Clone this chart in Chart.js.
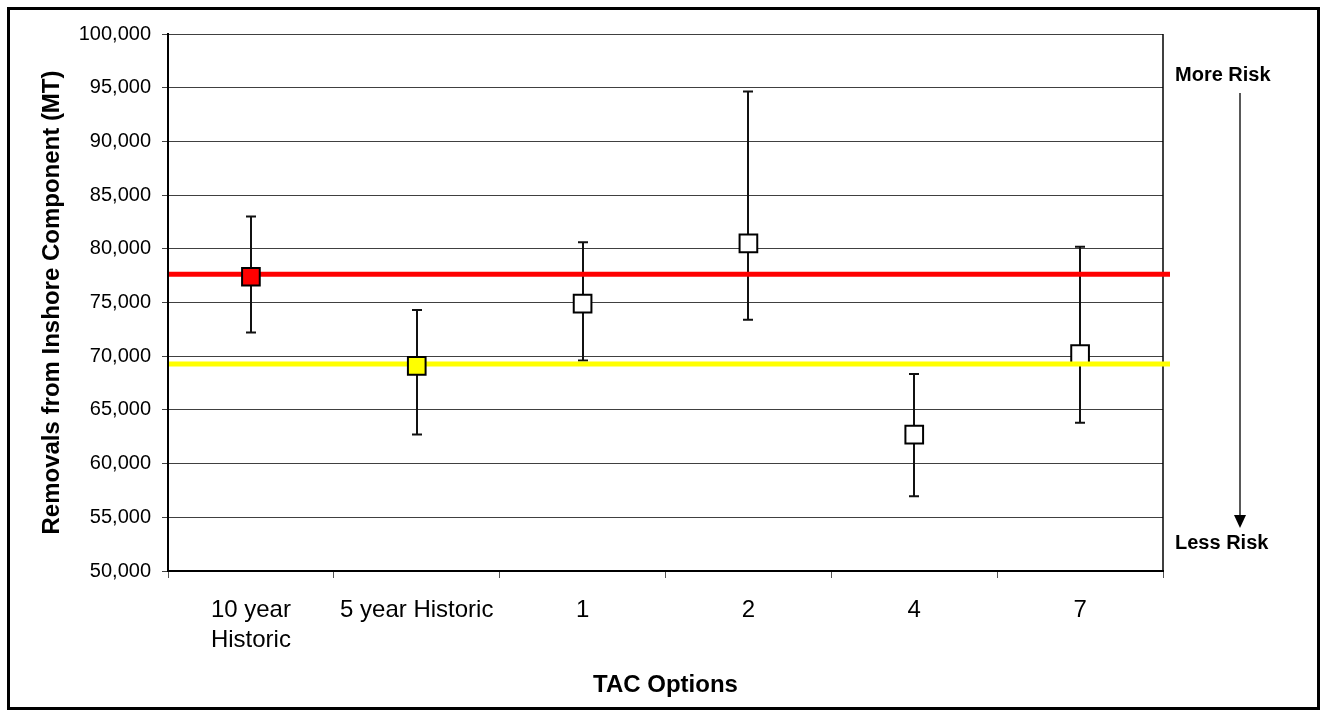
<!DOCTYPE html>
<html lang="en">
<head>
    <meta charset="UTF-8">
    <title>Removals from Inshore Component by TAC Option</title>
    <script src="https://cdn.jsdelivr.net/npm/chart.js"></script>
    <style>
        body {
            margin: 0;
            padding: 0;
            background: #fff;
        }
        #wrap {
            width: 1325px;
            height: 717px;
        }
    </style>
</head>
<body>
    <div id="wrap">
        <canvas id="removalsChart" width="1325" height="717"></canvas>
    </div>

    <script>
        // data
        const categories = [['10 year', 'Historic'], '5 year Historic', '1', '2', '4', '7'];
        const means = [77400, 69100, 74900, 80500, 62700, 70200];
        const upper = [83000, 74300, 80600, 94650, 68350, 80200];
        const lower = [72200, 62700, 69600, 73400, 56950, 63800];
        const markerFill = ['#FF0000', '#FFFF00', '#FFFFFF', '#FFFFFF', '#FFFFFF', '#FFFFFF'];
        const refValues = [77640, 69270];
        const refColors = ['#FF0000', '#FFFF00'];
        const yMin = 50000, yMax = 100000, yStep = 5000;

        const FONT = "'Liberation Sans', Arial, sans-serif";

        // historic options sit above the reference lines, the others below
        const historic = means.map((v, i) => i < 2 ? v : null);
        const others = means.map((v, i) => i >= 2 ? v : null);

        const overlay = {
            id: 'overlay',
            beforeDraw(chart) {
                const ctx = chart.ctx;
                ctx.save();
                ctx.fillStyle = '#fff';
                ctx.fillRect(0, 0, chart.width, chart.height);
                ctx.strokeStyle = '#000';
                ctx.lineWidth = 3;
                ctx.strokeRect(8.5, 8.5, 1310, 700);
                ctx.restore();
            },
            beforeDatasetsDraw(chart) {
                const ctx = chart.ctx;
                const x = chart.scales.x, y = chart.scales.y;
                const area = chart.chartArea;
                ctx.save();
                // right edge of plot box
                ctx.strokeStyle = '#000';
                ctx.lineWidth = 1.5;
                ctx.beginPath();
                ctx.moveTo(area.right, area.top);
                ctx.lineTo(area.right, area.bottom);
                ctx.stroke();
                // error bars
                ctx.lineWidth = 2;
                ctx.strokeStyle = '#111';
                for (let i = 0; i < means.length; i++) {
                    const px = Math.round(x.getPixelForValue(i));
                    const top = y.getPixelForValue(upper[i]);
                    const bot = y.getPixelForValue(lower[i]);
                    ctx.beginPath();
                    ctx.moveTo(px, top);
                    ctx.lineTo(px, bot);
                    ctx.moveTo(px - 5, top);
                    ctx.lineTo(px + 5, top);
                    ctx.moveTo(px - 5, bot);
                    ctx.lineTo(px + 5, bot);
                    ctx.stroke();
                }
                ctx.restore();
            },
            beforeDatasetDraw(chart, args) {
                if (args.index !== 0) return;
                const ctx = chart.ctx;
                const y = chart.scales.y;
                const area = chart.chartArea;
                ctx.save();
                ctx.lineWidth = 5;
                refValues.forEach((v, i) => {
                    const py = y.getPixelForValue(v);
                    ctx.strokeStyle = refColors[i];
                    ctx.beginPath();
                    ctx.moveTo(area.left + 1, py);
                    ctx.lineTo(area.right + 7, py);
                    ctx.stroke();
                });
                ctx.restore();
            },
            afterDraw(chart) {
                const ctx = chart.ctx;
                ctx.save();
                ctx.fillStyle = '#000';
                ctx.font = 'bold 20px ' + FONT;
                ctx.textAlign = 'left';
                ctx.textBaseline = 'middle';
                ctx.fillText('More Risk', 1175, 75);
                ctx.fillText('Less Risk', 1175, 543);
                // arrow
                ctx.strokeStyle = '#222';
                ctx.lineWidth = 1.5;
                ctx.beginPath();
                ctx.moveTo(1240, 93);
                ctx.lineTo(1240, 516);
                ctx.stroke();
                ctx.fillStyle = '#000';
                ctx.beginPath();
                ctx.moveTo(1234, 515);
                ctx.lineTo(1246, 515);
                ctx.lineTo(1240, 528);
                ctx.closePath();
                ctx.fill();
                ctx.restore();
            }
        };

        const ctx = document.getElementById('removalsChart').getContext('2d');
        new Chart(ctx, {
            type: 'line',
            data: {
                labels: categories,
                datasets: [{
                    label: 'Historic',
                    data: historic,
                    showLine: false,
                    pointStyle: 'rect',
                    pointRadius: 12.5,
                    pointBorderWidth: 2,
                    pointBorderColor: '#000',
                    pointBackgroundColor: markerFill
                }, {
                    label: 'TAC options',
                    data: others,
                    showLine: false,
                    pointStyle: 'rect',
                    pointRadius: 12.5,
                    pointBorderWidth: 2,
                    pointBorderColor: '#000',
                    pointBackgroundColor: markerFill
                }]
            },
            options: {
                responsive: false,
                animation: false,
                events: [],
                layout: {
                    padding: { left: 0, right: 162, top: 34, bottom: 0 }
                },
                plugins: {
                    legend: { display: false },
                    tooltip: { enabled: false }
                },
                scales: {
                    x: {
                        type: 'category',
                        offset: true,
                        afterFit: s => { s.height = 146; },
                        grid: {
                            offset: true,
                            drawOnChartArea: false,
                            drawTicks: true,
                            tickLength: 7,
                            color: '#555'
                        },
                        border: { color: '#000', width: 2 },
                        ticks: {
                            color: '#000',
                            padding: 17,
                            maxRotation: 0,
                            font: { family: FONT, size: 24, lineHeight: 1.25 }
                        },
                        title: {
                            display: true,
                            text: 'TAC Options',
                            color: '#000',
                            padding: { top: 0, bottom: 17 },
                            font: { family: FONT, size: 24, weight: 'bold' }
                        }
                    },
                    y: {
                        min: yMin,
                        max: yMax,
                        afterFit: s => { s.width = 168; },
                        grid: {
                            color: '#404040',
                            lineWidth: 1,
                            drawTicks: true,
                            tickLength: 6
                        },
                        border: { color: '#000', width: 2 },
                        ticks: {
                            stepSize: yStep,
                            color: '#000',
                            padding: 11,
                            font: { family: FONT, size: 20 },
                            callback: v => v.toLocaleString('en-US')
                        },
                        title: {
                            display: true,
                            text: 'Removals from Inshore Component (MT)',
                            color: '#000',
                            padding: { top: 38, bottom: 0 },
                            font: { family: FONT, size: 24, weight: 'bold' }
                        }
                    }
                }
            },
            plugins: [overlay]
        });
    </script>
</body>
</html>
